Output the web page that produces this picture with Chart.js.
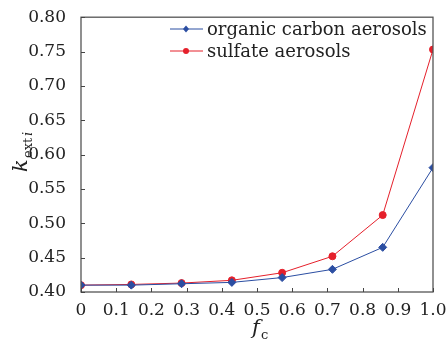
<!DOCTYPE html>
<html>
<head>
<meta charset="utf-8">
<script src="https://cdn.jsdelivr.net/npm/chart.js@4/dist/chart.umd.min.js"></script>
<style>
  html, body { margin: 0; padding: 0; background: #fff; }
  #wrap { width: 447px; height: 345px; }
</style>
</head>
<body>
<div id="wrap"><canvas id="chart" width="447" height="345"></canvas></div>
<script>
// fc sample points (sevenths of 1)
const fcValues = [0, 1/7, 2/7, 3/7, 4/7, 5/7, 6/7, 1];
// k_exti for each aerosol type
const organicCarbon = [0.410, 0.410, 0.412, 0.414, 0.421, 0.433, 0.465, 0.581];
const sulfate = [0.410, 0.411, 0.413, 0.417, 0.428, 0.452, 0.512, 0.753];
const seriesNames = ['organic carbon aerosols', 'sulfate aerosols'];
const seriesColors = ['#2b4ea2', '#e5202b'];

const serif = '"DejaVu Serif", "Liberation Serif", serif';

function toPoints(ys){
  return fcValues.map((x, i) => ({x: x, y: ys[i]}));
}

// Frame, inward ticks, legend and axis titles
const decorations = {
  id: 'decorations',
  afterDraw(chart){
    const ctx = chart.ctx;
    const a = chart.chartArea;
    const xs = chart.scales.x, ys = chart.scales.y;
    ctx.save();

    // frame
    ctx.strokeStyle = '#555';
    ctx.lineWidth = 1.3;
    ctx.strokeRect(a.left, a.top, a.right - a.left, a.bottom - a.top);

    // inward tick marks
    ctx.lineWidth = 1;
    ctx.strokeStyle = '#444';
    ctx.beginPath();
    xs.ticks.forEach(t => {
      const px = Math.round(xs.getPixelForValue(t.value)) + 0.5;
      ctx.moveTo(px, a.bottom);
      ctx.lineTo(px, a.bottom - 4);
    });
    ys.ticks.forEach(t => {
      const py = Math.round(ys.getPixelForValue(t.value)) + 0.5;
      ctx.moveTo(a.left, py);
      ctx.lineTo(a.left + 4, py);
    });
    ctx.stroke();

    // legend
    ctx.font = '18px ' + serif;
    ctx.textBaseline = 'middle';
    const rows = [29, 51];
    chart.data.datasets.forEach((ds, i) => {
      const y = rows[i];
      ctx.strokeStyle = ds.borderColor;
      ctx.lineWidth = 1;
      ctx.beginPath();
      ctx.moveTo(170, y);
      ctx.lineTo(203, y);
      ctx.stroke();
      ctx.fillStyle = ds.borderColor;
      ctx.beginPath();
      if(ds.pointStyle === 'rectRot'){
        ctx.moveTo(186, y - 3.5);
        ctx.lineTo(189, y);
        ctx.lineTo(186, y + 3.5);
        ctx.lineTo(183, y);
      } else {
        ctx.arc(186, y, 3, 0, Math.PI * 2);
      }
      ctx.fill();
      ctx.fillStyle = '#222';
      ctx.textAlign = 'left';
      ctx.fillText(seriesNames[i], 207, y + 1);
    });

    // x title: f_c
    ctx.fillStyle = '#222';
    ctx.textAlign = 'left';
    ctx.textBaseline = 'alphabetic';
    ctx.font = 'italic 21px ' + serif;
    ctx.fillText('f', 252, 334);
    ctx.font = '13px ' + serif;
    ctx.fillText('c', 261, 339);

    // y title: k_exti (rotated)
    ctx.translate(27, 150);
    ctx.rotate(-Math.PI / 2);
    ctx.font = 'italic 21px ' + serif;
    ctx.fillText('k', -22, 0);
    ctx.font = '13px ' + serif;
    ctx.fillText('ext', -8, 5);
    ctx.font = 'italic 13px ' + serif;
    ctx.fillText('i', 14, 5);
    ctx.restore();
  }
};

new Chart(document.getElementById('chart'), {
  type: 'line',
  data: {
    datasets: [
      {
        label: seriesNames[0],
        data: toPoints(organicCarbon),
        borderColor: seriesColors[0],
        backgroundColor: seriesColors[0],
        borderWidth: 1,
        pointStyle: 'rectRot',
        pointRadius: 4,
        tension: 0
      },
      {
        label: seriesNames[1],
        data: toPoints(sulfate),
        borderColor: seriesColors[1],
        backgroundColor: seriesColors[1],
        borderWidth: 1,
        pointStyle: 'circle',
        pointRadius: 3.5,
        tension: 0
      }
    ]
  },
  options: {
    responsive: false,
    animation: false,
    layout: {padding: {top: 15, right: 14, left: 0, bottom: 0}},
    plugins: {legend: {display: false}, tooltip: {enabled: false}},
    scales: {
      x: {
        type: 'linear',
        min: 0, max: 1,
        grid: {display: false},
        border: {display: false},
        ticks: {
          stepSize: 0.1,
          padding: 0,
          color: '#222',
          font: {family: serif, size: 17},
          maxRotation: 0,
          callback: v => v === 0 ? '0' : v.toFixed(1)
        },
        afterFit: s => { s.height = 53; }
      },
      y: {
        min: 0.40, max: 0.80,
        grid: {display: false},
        border: {display: false},
        ticks: {
          stepSize: 0.05,
          padding: 7,
          color: '#222',
          font: {family: serif, size: 17},
          callback: v => v.toFixed(2)
        },
        afterFit: s => { s.width = 81; }
      }
    }
  },
  plugins: [decorations]
});
</script>
</body>
</html>
